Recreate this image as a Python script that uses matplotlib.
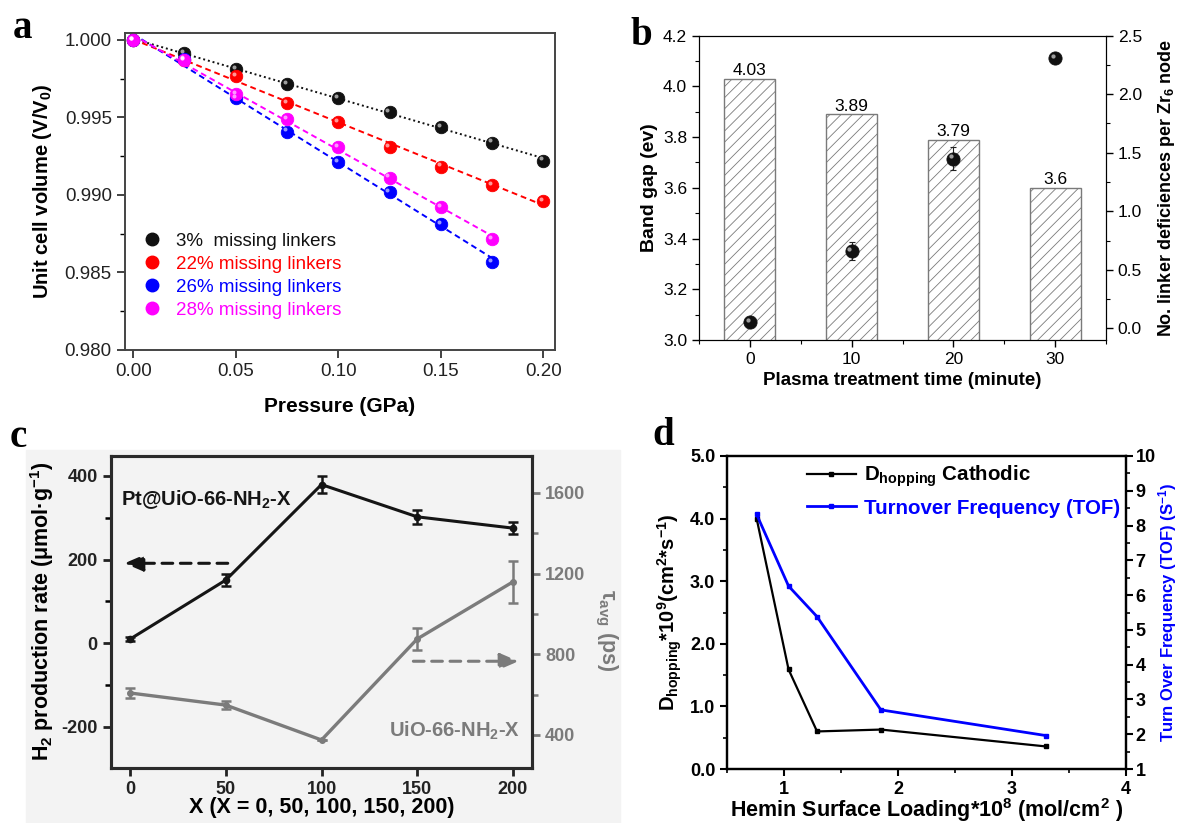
import numpy as np
import matplotlib
matplotlib.use('Agg')
import matplotlib.pyplot as plt
from matplotlib.lines import Line2D
from matplotlib.patches import Rectangle
from matplotlib.ticker import MultipleLocator, FormatStrFormatter
from matplotlib.transforms import offset_copy

plt.rcParams['font.family'] = ['Liberation Sans', 'DejaVu Sans']
plt.rcParams['mathtext.fontset'] = 'custom'
plt.rcParams['mathtext.rm'] = 'Liberation Sans'
plt.rcParams['mathtext.bf'] = 'Liberation Sans:bold'
plt.rcParams['mathtext.it'] = 'Liberation Sans:italic'
plt.rcParams['mathtext.default'] = 'bf'
plt.rcParams['axes.unicode_minus'] = False
plt.rcParams['hatch.linewidth'] = 0.6

# ---- panel a : unit cell volume vs pressure
pressure = [0.0, 0.025, 0.05, 0.075, 0.10, 0.125, 0.15, 0.175, 0.20]
vol_3 = [1.0, 0.99914, 0.99813, 0.99718, 0.99628, 0.99533, 0.99437, 0.99338, 0.99222]
vol_22 = [1.0, 0.99871, 0.99766, 0.99592, 0.99473, 0.99308, 0.99183, 0.99065, 0.98962]
vol_26 = [1.0, 0.99875, 0.99624, 0.99409, 0.99215, 0.99017, 0.98813, 0.98570]
vol_28 = [1.0, 0.99870, 0.99652, 0.99488, 0.99308, 0.99112, 0.98921, 0.98716]
labels_a = ['3%  missing linkers', '22% missing linkers', '26% missing linkers', '28% missing linkers']
colors_a = ['#111111', '#ff0000', '#0000ff', '#ff00ff']

# ---- panel b : band gap bars + linker deficiencies
plasma_time = [0, 10, 20, 30]
band_gap = [4.03, 3.89, 3.79, 3.6]
deficiency = [0.05, 0.66, 1.45, 2.31]
deficiency_err = [0.02, 0.08, 0.10, 0.04]

# ---- panel c : H2 production and tau_avg
x_c = [0, 50, 100, 150, 200]
h2_rate = [10, 151, 379, 302, 275]
h2_err = [4, 14, 20, 16, 14]
tau_avg = [608, 548, 375, 876, 1159]
tau_err = [25, 20, 0, 54, 104]

# ---- panel d : D_hopping and TOF vs hemin loading
loading = [0.76, 1.04, 1.29, 1.85, 3.30]
d_hopping = [4.00, 1.59, 0.60, 0.63, 0.36]
tof = [8.32, 6.26, 5.38, 2.70, 1.96]

W, H = 1184, 823
fig = plt.figure(figsize=(W / 100, H / 100), dpi=100)


def rect(l, t, r, b):
    # pixel box -> figure fraction
    return [l / W, 1 - b / H, (r - l) / W, (b - t) / H]


def balls(ax, x, y, color, ms, z=4):
    # shiny sphere look: solid dot plus a small highlight
    ax.plot(x, y, 'o', ms=ms, mfc=color, mec=color, mew=0.6, ls='none', zorder=z)
    hi = offset_copy(ax.transData, fig=fig, x=-ms * 0.17, y=ms * 0.17, units='points')
    ax.plot(x, y, 'o', ms=ms * 0.32, mfc='white', mec='none', alpha=0.6,
            ls='none', transform=hi, zorder=z + 0.1)


def bold_ticks(ax):
    for lbl in ax.get_xticklabels() + ax.get_yticklabels():
        lbl.set_fontweight('bold')


# ================= a =================
axa = fig.add_axes(rect(125, 33.3, 555, 350))
series_a = [vol_3, vol_22, vol_26, vol_28]
styles_a = [(0, (1, 1.5)), (0, (3, 2)), (0, (3, 2)), (0, (3, 2))]
for vol, c, ls in zip(series_a, colors_a, styles_a):
    xs = np.array(pressure[:len(vol)])
    coef = np.polyfit(xs, vol, 1)
    xe = np.array([xs[0], xs[-1]])
    axa.plot(xe, np.polyval(coef, xe), color=c, ls=ls, lw=1.4, zorder=2)
    balls(axa, xs, vol, c, 9)

axa.set_xlim(-0.004, 0.2057)
axa.set_ylim(0.980, 1.00043)
axa.xaxis.set_major_locator(MultipleLocator(0.05))
axa.xaxis.set_major_formatter(FormatStrFormatter('%.2f'))
axa.yaxis.set_major_locator(MultipleLocator(0.005))
axa.yaxis.set_minor_locator(MultipleLocator(0.0025))
axa.yaxis.set_major_formatter(FormatStrFormatter('%.3f'))
axa.tick_params(direction='out', labelsize=13.5, length=6, width=1.2, colors='#222222')
axa.tick_params(which='minor', direction='out', length=3.5, width=1.0)
for s in axa.spines.values():
    s.set_color('#444444')
    s.set_linewidth(1.4)
axa.set_xlabel('Pressure (GPa)', fontsize=15, fontweight='bold', labelpad=12)
axa.set_ylabel('Unit cell volume (V/V$_0$)', fontsize=14.5, fontweight='bold', labelpad=8)

handles_a = [Line2D([], [], marker='o', ls='none', ms=9, mfc=c, mec=c) for c in colors_a]
axa.legend(handles_a, labels_a, loc='upper left', bbox_to_anchor=(0.04, 0.37),
           frameon=False, fontsize=13.5, handlelength=1.0, handletextpad=0.8,
           labelspacing=0.31, borderaxespad=0, borderpad=0, labelcolor='markerfacecolor')

# ================= b =================
axb = fig.add_axes(rect(699, 35.7, 1106, 340))
axb.bar(plasma_time, band_gap, width=5, color='white', edgecolor='#7a7a7a',
        hatch='///', linewidth=1.0, zorder=2)
for t, v in zip(plasma_time, band_gap):
    axb.text(t, v + 0.002, f'{v:g}', ha='center', va='bottom', fontsize=12.5)
axb.set_xlim(-5, 35)
axb.set_ylim(3.0, 4.2)
axb.xaxis.set_major_locator(MultipleLocator(10))
axb.xaxis.set_minor_locator(MultipleLocator(5))
axb.yaxis.set_major_locator(MultipleLocator(0.2))
axb.yaxis.set_minor_locator(MultipleLocator(0.1))
axb.yaxis.set_major_formatter(FormatStrFormatter('%.1f'))
axb.tick_params(direction='out', labelsize=12.5, length=5, width=1.0)
axb.tick_params(which='minor', direction='out', length=3, width=0.8)
axb.set_xlabel('Plasma treatment time (minute)', fontsize=13.5, fontweight='bold')
axb.set_ylabel('Band gap (ev)', fontsize=14, fontweight='bold')

axb2 = axb.twinx()
axb2.errorbar(plasma_time, deficiency, yerr=deficiency_err, fmt='none', ecolor='#222222',
              elinewidth=0.8, capsize=2.5, capthick=0.8, zorder=3)
balls(axb2, plasma_time, deficiency, '#111111', 9.5)
axb2.set_ylim(-0.1, 2.5)
axb2.yaxis.set_major_locator(MultipleLocator(0.5))
axb2.yaxis.set_minor_locator(MultipleLocator(0.25))
axb2.yaxis.set_major_formatter(FormatStrFormatter('%.1f'))
axb2.tick_params(direction='out', labelsize=12.5, length=5, width=1.0)
axb2.tick_params(which='minor', direction='out', length=3, width=0.8)
axb2.set_ylabel('No. linker deficiences per Zr$_6$ node', fontsize=13, fontweight='bold',
                labelpad=10)

# ================= c =================
fig.patches.append(Rectangle((26 / W, 0), (620 - 26) / W, 1 - 450 / H,
                             transform=fig.transFigure, color='#f3f3f3', zorder=-5))
grey_c = '#7b7b7b'
axc = fig.add_axes(rect(111, 455.7, 532, 768))
axc.set_facecolor('none')
axc2 = axc.twinx()
axc2.set_facecolor('none')
axc2.errorbar(x_c, tau_avg, yerr=tau_err, color=grey_c, lw=2.4, marker='o', ms=4,
              capsize=3.5, capthick=1.8, elinewidth=1.8)
axc.errorbar(x_c, h2_rate, yerr=h2_err, color='#151515', lw=2.2, marker='o', ms=4.5,
             capsize=3.5, capthick=1.8, elinewidth=1.8, zorder=5)
axc.set_zorder(axc2.get_zorder() + 1)

axc.set_xlim(-10, 210)
axc.set_ylim(-298, 448)
axc2.set_ylim(236, 1785)
axc.set_xticks(x_c)
axc.set_yticks([-200, 0, 200, 400])
axc.yaxis.set_minor_locator(MultipleLocator(100))
axc2.set_yticks([400, 800, 1200, 1600])
axc2.yaxis.set_minor_locator(MultipleLocator(200))
axc.tick_params(direction='out', labelsize=13, length=6, width=2, colors='#222222')
axc.tick_params(which='minor', direction='out', length=4, width=1.8)
axc2.tick_params(direction='out', labelsize=13, length=6, width=2, colors=grey_c)
axc2.tick_params(which='minor', direction='out', length=4, width=1.8, colors=grey_c)
bold_ticks(axc)
bold_ticks(axc2)
for ax in (axc, axc2):
    for s in ax.spines.values():
        s.set_color('#2a2a2a')
        s.set_linewidth(2.2)

axc.set_xlabel('X (X = 0, 50, 100, 150, 200)', fontsize=15.5, fontweight='bold', labelpad=-1)
axc.set_ylabel('H$_2$ production rate (μmol·g$^{-1}$)', fontsize=15.5, fontweight='bold', labelpad=4)
axc2.set_ylabel('τ$_{avg}$ (ps)', fontsize=15.5, fontweight='bold', color=grey_c,
                rotation=-90, ha='center', va='center')
axc2.yaxis.set_label_coords(1.175, 0.44)

axc.text(-5, 344, 'Pt@UiO-66-NH$_2$-X', fontsize=14.5, fontweight='bold',
         color='#151515', ha='left', va='center', zorder=6)
axc.text(204, -210, 'UiO-66-NH$_2$-X', fontsize=14.5, fontweight='bold',
         color=grey_c, ha='right', va='center', zorder=6)
arrow_black = [(51, 191), (-3, 191)]
arrow_grey = [(148, -43), (203, -43)]
for (p0, p1), c in ((arrow_black, '#151515'), (arrow_grey, grey_c)):
    axc.annotate('', xy=p1, xytext=p0, zorder=6,
                 arrowprops=dict(arrowstyle='-|>,head_length=0.7,head_width=0.3',
                                 color=c, lw=2.2, linestyle=(0, (3.5, 2.5)),
                                 mutation_scale=16, shrinkA=0, shrinkB=0))

# ================= d =================
axd = fig.add_axes(rect(727, 456, 1126, 769))
l1, = axd.plot(loading, d_hopping, color='black', lw=1.6, marker='s', ms=2.5,
               label='D$_{hopping}$ Cathodic')
axd2 = axd.twinx()
l2, = axd2.plot(loading, tof, color='#0000ff', lw=2.0, marker='s', ms=2.5,
                label='Turnover Frequency (TOF)')
axd.set_xlim(0.5, 4)
axd.set_ylim(0, 5)
axd2.set_ylim(1, 10)
axd.set_xticks([1, 2, 3, 4])
axd.xaxis.set_minor_locator(MultipleLocator(0.5))
axd.set_yticks([0, 1, 2, 3, 4, 5])
axd.yaxis.set_major_formatter(FormatStrFormatter('%.1f'))
axd.yaxis.set_minor_locator(MultipleLocator(0.5))
axd2.set_yticks(list(range(1, 11)))
axd2.yaxis.set_minor_locator(MultipleLocator(0.5))
for ax in (axd, axd2):
    ax.tick_params(direction='out', labelsize=13, length=5, width=1.5)
    ax.tick_params(which='minor', direction='out', length=3, width=1.2)
    for s in ax.spines.values():
        s.set_linewidth(1.6)
axd2.tick_params(pad=2)
bold_ticks(axd)
bold_ticks(axd2)
axd.set_xlabel('Hemin Surface Loading*10$^8$ (mol/cm$^2$ )', fontsize=15.5, fontweight='bold', labelpad=-1)
axd.set_ylabel('D$_{hopping}$*10$^9$(cm$^2$*s$^{-1}$)', fontsize=14.5, fontweight='bold', labelpad=4)
axd2.set_ylabel('Turn Over Frequency (TOF) (S$^{-1}$)', fontsize=12, fontweight='bold',
                color='#0000ff', labelpad=0)
axd.legend([l1, l2], [l1.get_label(), l2.get_label()], loc='upper left',
           bbox_to_anchor=(0.2, 0.975), frameon=False, labelcolor='linecolor',
           prop={'weight': 'bold', 'size': 14.8}, handlelength=2.4, handletextpad=0.4,
           labelspacing=0.45, borderaxespad=0, borderpad=0)

# panel letters
for letter, px, py in (('a', 22, 38), ('b', 641, 45), ('c', 18, 447), ('d', 663, 445)):
    fig.text(px / W, 1 - py / H, letter, fontsize=28, fontweight='bold',
             family='Liberation Serif', ha='center', va='baseline')

fig.savefig('out.png', dpi=100)
